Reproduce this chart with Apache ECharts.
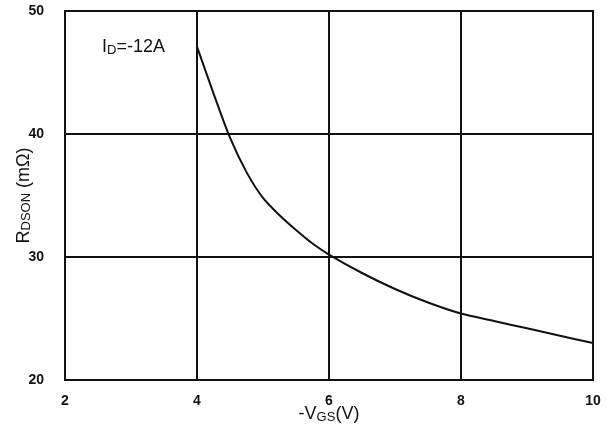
<!DOCTYPE html>
<html>
<head>
<meta charset="utf-8">
<script src="https://cdn.jsdelivr.net/npm/echarts@6/dist/echarts.min.js"></script>
<style>
  html, body { margin: 0; padding: 0; background: #fff; }
  #chart { width: 611px; height: 433px; }
</style>
</head>
<body>
<div id="chart"></div>
<script>
// -VGS (V) vs on-resistance RDSON (mΩ) at ID = -12A
const vgs = [4, 4.25, 4.5, 4.75, 5, 5.25, 5.5, 5.75, 6, 6.5, 7, 7.5, 8, 8.5, 9, 9.5, 10];
const rdson = [47.1, 43.3, 39.7, 36.9, 34.8, 33.4, 32.2, 31.1, 30.2, 28.7, 27.4, 26.3, 25.4, 24.8, 24.2, 23.6, 23.0];
const xTicks = [2, 4, 6, 8, 10];
const yTicks = [20, 30, 40, 50];

const font = 'Liberation Sans, Arial, sans-serif';
const chart = echarts.init(document.getElementById('chart'));

chart.setOption({
  animation: false,
  backgroundColor: '#fff',
  title: {
    text: '{a|I}{b|D}{a|=-12A}',
    left: 97,
    top: 33,
    textStyle: {
      rich: {
        a: { fontFamily: font, fontSize: 18, fontWeight: 'normal', color: '#111' },
        b: { fontFamily: font, fontSize: 13, fontWeight: 'normal', color: '#111', padding: [6, 0, 0, 0] }
      }
    }
  },
  grid: { left: 65, right: 18, top: 11, bottom: 53, containLabel: false, outerBoundsMode: 'none' },
  xAxis: {
    type: 'value',
    min: xTicks[0],
    max: xTicks[xTicks.length - 1],
    interval: 2,
    name: '{a|-V}{b|GS}{a|(V)}',
    nameLocation: 'middle',
    nameGap: 24,
    nameMoveOverlap: false,
    nameTextStyle: {
      rich: {
        a: { fontFamily: font, fontSize: 18, color: '#111' },
        b: { fontFamily: font, fontSize: 13, color: '#111', padding: [7, 0, 0, 0] }
      }
    },
    axisLine: { show: true, lineStyle: { color: '#111', width: 2 } },
    axisTick: { show: false },
    axisLabel: { fontFamily: font, fontSize: 14, color: '#111', margin: 14, fontWeight: 'bold' },
    splitLine: { show: true, lineStyle: { color: '#111', width: 2 } }
  },
  yAxis: {
    type: 'value',
    min: yTicks[0],
    max: yTicks[yTicks.length - 1],
    interval: 10,
    name: '{a|R}{b|DSON}{a| (mΩ)}',
    nameLocation: 'middle',
    nameGap: 32,
    nameMoveOverlap: false,
    nameRotate: 90,
    nameTextStyle: {
      rich: {
        a: { fontFamily: font, fontSize: 18, color: '#111' },
        b: { fontFamily: font, fontSize: 13, color: '#111', padding: [5, 0, 0, 0] }
      }
    },
    axisLine: { show: true, lineStyle: { color: '#111', width: 2 } },
    axisTick: { show: false },
    axisLabel: { fontFamily: font, fontSize: 14, color: '#111', margin: 21, fontWeight: 'bold' },
    splitLine: { show: true, lineStyle: { color: '#111', width: 2 } }
  },
  series: [{
    type: 'line',
    data: vgs.map((v, i) => [v, rdson[i]]),
    smooth: 0.3,
    showSymbol: false,
    lineStyle: { color: '#111', width: 2 }
  }]
});

// close the plot box on the top and right edges
const bw = chart.getWidth(), bh = chart.getHeight();
chart.setOption({
  graphic: [{
    type: 'rect',
    shape: { x: 65, y: 11, width: bw - 65 - 18, height: bh - 11 - 53 },
    style: { fill: 'none', stroke: '#111', lineWidth: 2 },
    silent: true
  }]
});
</script>
</body>
</html>
